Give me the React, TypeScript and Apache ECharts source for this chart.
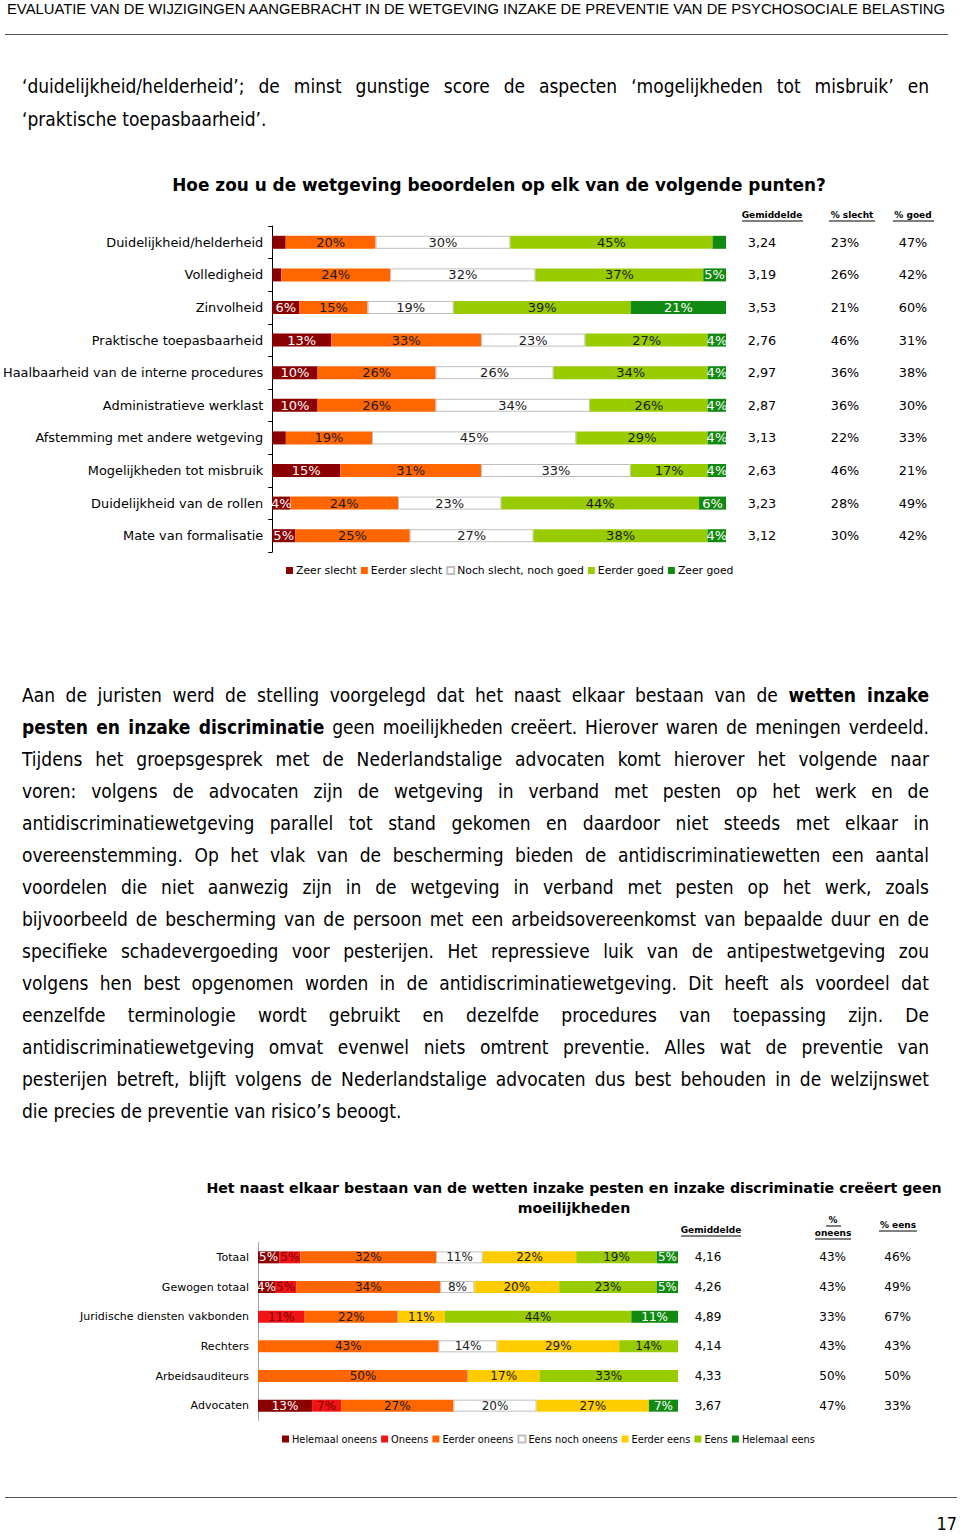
import React, { useEffect, useRef } from 'react';
import * as echarts from 'echarts';

// ---------- Chart 1 data ----------
const categories1 = [
  'Duidelijkheid/helderheid',
  'Volledigheid',
  'Zinvolheid',
  'Praktische toepasbaarheid',
  'Haalbaarheid van de interne procedures',
  'Administratieve werklast',
  'Afstemming met andere wetgeving',
  'Mogelijkheden tot misbruik',
  'Duidelijkheid van de rollen',
  'Mate van formalisatie',
];
const levels1 = ['Zeer slecht', 'Eerder slecht', 'Noch slecht, noch goed', 'Eerder goed', 'Zeer goed'];
const zeerSlecht = [3, 2, 6, 13, 10, 10, 3, 15, 4, 5];
const eerderSlecht = [20, 24, 15, 33, 26, 26, 19, 31, 24, 25];
const nochSlechtNochGoed = [30, 32, 19, 23, 26, 34, 45, 33, 23, 27];
const eerderGoed = [45, 37, 39, 27, 34, 26, 29, 17, 44, 38];
const zeerGoed = [3, 5, 21, 4, 4, 4, 4, 4, 6, 4];
const gemiddelde1 = [3.24, 3.19, 3.53, 2.76, 2.97, 2.87, 3.13, 2.63, 3.23, 3.12];
const pctSlecht = [23, 26, 21, 46, 36, 36, 22, 46, 28, 30];
const pctGoed = [47, 42, 60, 31, 38, 30, 33, 21, 49, 42];

// ---------- Chart 2 data ----------
const categories2 = ['Totaal', 'Gewogen totaal', 'Juridische diensten vakbonden', 'Rechters', 'Arbeidsauditeurs', 'Advocaten'];
const levels2 = ['Helemaal oneens', 'Oneens', 'Eerder oneens', 'Eens noch oneens', 'Eerder eens', 'Eens', 'Helemaal eens'];
const helemaalOneens = [5, 4, 0, 0, 0, 13];
const oneens = [5, 5, 11, 0, 0, 7];
const eerderOneens = [32, 34, 22, 43, 50, 27];
const eensNochOneens = [11, 8, 0, 14, 0, 20];
const eerderEens = [22, 20, 11, 29, 17, 27];
const eens = [19, 23, 44, 14, 33, 0];
const helemaalEens = [5, 5, 11, 0, 0, 7];
const gemiddelde2 = [4.16, 4.26, 4.89, 4.14, 4.33, 3.67];
const pctOneens = [43, 43, 33, 43, 50, 47];
const pctEens = [46, 49, 67, 43, 50, 33];

// ---------- Text ----------
const headerText = 'EVALUATIE VAN DE WIJZIGINGEN AANGEBRACHT IN DE WETGEVING INZAKE DE PREVENTIE VAN DE PSYCHOSOCIALE BELASTING';
type Seg = [string, boolean];
const proseLines: { segs: Seg[]; y: number; justify: boolean }[] = [
  { segs: [['‘duidelijkheid/helderheid’; de minst gunstige score de aspecten ‘mogelijkheden tot misbruik’ en', false]], y: 86, justify: true },
  { segs: [['‘praktische toepasbaarheid’.', false]], y: 119, justify: false },
  { segs: [['Aan de juristen werd de stelling voorgelegd dat het naast elkaar bestaan van de ', false], ['wetten inzake', true]], y: 695, justify: true },
  { segs: [['pesten en inzake discriminatie', true], [' geen moeilijkheden creëert. Hierover waren de meningen verdeeld.', false]], y: 727, justify: true },
  { segs: [['Tijdens het groepsgesprek met de Nederlandstalige advocaten komt hierover het volgende naar', false]], y: 759, justify: true },
  { segs: [['voren: volgens de advocaten zijn de wetgeving in verband met pesten op het werk en de', false]], y: 791, justify: true },
  { segs: [['antidiscriminatiewetgeving parallel tot stand gekomen en daardoor niet steeds met elkaar in', false]], y: 823, justify: true },
  { segs: [['overeenstemming. Op het vlak van de bescherming bieden de antidiscriminatiewetten een aantal', false]], y: 855, justify: true },
  { segs: [['voordelen die niet aanwezig zijn in de wetgeving in verband met pesten op het werk, zoals', false]], y: 887, justify: true },
  { segs: [['bijvoorbeeld de bescherming van de persoon met een arbeidsovereenkomst van bepaalde duur en de', false]], y: 919, justify: true },
  { segs: [['specifieke schadevergoeding voor pesterijen. Het repressieve luik van de antipestwetgeving zou', false]], y: 951, justify: true },
  { segs: [['volgens hen best opgenomen worden in de antidiscriminatiewetgeving. Dit heeft als voordeel dat', false]], y: 983, justify: true },
  { segs: [['eenzelfde terminologie wordt gebruikt en dezelfde procedures van toepassing zijn. De', false]], y: 1015, justify: true },
  { segs: [['antidiscriminatiewetgeving omvat evenwel niets omtrent preventie. Alles wat de preventie van', false]], y: 1047, justify: true },
  { segs: [['pesterijen betreft, blijft volgens de Nederlandstalige advocaten dus best behouden in de welzijnswet', false]], y: 1079, justify: true },
  { segs: [['die precies de preventie van risico’s beoogt.', false]], y: 1111, justify: false },
];

const CF = 'DejaVu Sans';
const PF = '"DejaVu Sans Condensed", "DejaVu Sans", sans-serif';

const fmtDec = (v: number) => v.toFixed(2).replace('.', ',');

function buildSeries(
  seriesVals: number[][],
  names: string[],
  colors: string[],
  labelColors: string[],
  axisIdx: number,
  stack: string,
  barWidth: number,
  minLabel: number,
  fontSize: number
) {
  const n = seriesVals[0].length;
  const sums = Array.from({ length: n }, (_, i) => seriesVals.reduce((s, arr) => s + arr[i], 0));
  return seriesVals.map((arr, j) => ({
    name: names[j],
    type: 'bar',
    stack,
    xAxisIndex: axisIdx,
    yAxisIndex: axisIdx * 2,
    barWidth,
    itemStyle: {
      color: colors[j],
      borderColor: colors[j] === '#FFFFFF' ? '#BFBFBF' : colors[j],
      borderWidth: colors[j] === '#FFFFFF' ? 1 : 0,
    },
    label: {
      show: true,
      position: 'inside',
      color: labelColors[j],
      fontSize,
      fontFamily: CF,
      formatter: (p: any) => (p.data.raw >= minLabel ? p.data.raw + '%' : ''),
    },
    emphasis: { disabled: true },
    data: arr.map((v, i) => ({ value: (v / sums[i]) * 100, raw: v })),
  }));
}

const colors1 = ['#8B0000', '#FF6600', '#FFFFFF', '#99CC00', '#118A11'];
const labelColors1 = ['#FFFFFF', '#1A1A1A', '#1A1A1A', '#1A1A1A', '#FFFFFF'];
const colors2 = ['#8B0000', '#F01414', '#FF6600', '#FFFFFF', '#FFCC00', '#99CC00', '#118A11'];
const labelColors2 = ['#FFFFFF', '#7A0000', '#1A1A1A', '#1A1A1A', '#1A1A1A', '#1A1A1A', '#FFFFFF'];

function hdr(text: string, x: number, y: number, size: number) {
  return {
    type: 'text',
    x,
    y,
    style: {
      text,
      fill: '#000',
      font: `bold ${size}px "${CF}"`,
      textAlign: 'center',
      textVerticalAlign: 'middle',
    },
  };
}
function uline(x1: number, x2: number, y: number) {
  return { type: 'line', shape: { x1, y1: y, x2, y2: y }, style: { stroke: '#000', lineWidth: 1 } };
}

function buildOption() {
  const s1 = buildSeries(
    [zeerSlecht, eerderSlecht, nochSlechtNochGoed, eerderGoed, zeerGoed],
    levels1, colors1, labelColors1, 0, 'top', 13, 4, 13
  );
  const s2 = buildSeries(
    [helemaalOneens, oneens, eerderOneens, eensNochOneens, eerderEens, eens, helemaalEens],
    levels2, colors2, labelColors2, 1, 'bottom', 12, 1, 12
  );
  return {
    animation: false,
    backgroundColor: 'transparent',
    grid: [
      { left: 271, top: 226, width: 455, height: 326 },
      { left: 258, top: 1242.5, width: 420, height: 178 },
    ],
    xAxis: [
      { type: 'value', gridIndex: 0, min: 0, max: 100, show: false },
      { type: 'value', gridIndex: 1, min: 0, max: 100, show: false },
    ],
    yAxis: [
      {
        type: 'category', gridIndex: 0, data: categories1, inverse: true,
        axisLine: { show: true, lineStyle: { color: '#000', width: 1 } },
        axisTick: { show: true, length: 4, lineStyle: { color: '#000' } },
        axisLabel: { color: '#000', fontSize: 12.9, fontFamily: CF, margin: 9 },
      },
      {
        type: 'category', gridIndex: 0, data: categories1, inverse: true, position: 'right',
        axisLine: { show: false }, axisTick: { show: false },
        axisLabel: {
          margin: 6,
          formatter: (_v: string, i: number) => `{a|${fmtDec(gemiddelde1[i])}}{b|${pctSlecht[i]}%}{c|${pctGoed[i]}%}`,
          rich: {
            a: { width: 60, align: 'center', fontSize: 12.8, fontFamily: CF, color: '#000' },
            b: { width: 106, align: 'center', fontSize: 12.8, fontFamily: CF, color: '#000' },
            c: { width: 30, align: 'center', fontSize: 12.8, fontFamily: CF, color: '#000' },
          },
        },
      },
      {
        type: 'category', gridIndex: 1, data: categories2, inverse: true,
        axisLine: { show: true, lineStyle: { color: '#A6A6A6', width: 1 } },
        axisTick: { show: false },
        axisLabel: { color: '#000', fontSize: 11, fontFamily: CF, margin: 9 },
      },
      {
        type: 'category', gridIndex: 1, data: categories2, inverse: true, position: 'right',
        axisLine: { show: false }, axisTick: { show: false },
        axisLabel: {
          margin: 6,
          formatter: (_v: string, i: number) => `{a|${fmtDec(gemiddelde2[i])}}{b|${pctOneens[i]}%}{c|${pctEens[i]}%}`,
          rich: {
            a: { width: 48, align: 'center', fontSize: 12, fontFamily: CF, color: '#000' },
            b: { width: 114, align: 'right', fontSize: 12, fontFamily: CF, color: '#000' },
            c: { width: 65, align: 'right', fontSize: 12, fontFamily: CF, color: '#000' },
          },
        },
      },
    ],
    legend: [
      {
        data: levels1, left: 286, top: 565, orient: 'horizontal',
        icon: 'rect', itemWidth: 7, itemHeight: 7, itemGap: 4, padding: 0,
        textStyle: { fontSize: 10.8, fontFamily: CF, color: '#000', padding: [0, 0, 0, -2] },
        selectedMode: false,
      },
      {
        data: levels2, left: 282, top: 1434, orient: 'horizontal',
        icon: 'rect', itemWidth: 7, itemHeight: 7, itemGap: 4, padding: 0,
        textStyle: { fontSize: 9.8, fontFamily: CF, color: '#000', padding: [0, 0, 0, -2] },
        selectedMode: false,
      },
    ],
    graphic: [
      {
        type: 'text', x: 499, y: 185,
        style: {
          text: 'Hoe zou u de wetgeving beoordelen op elk van de volgende punten?',
          fill: '#000', font: `bold 16.9px "${CF}"`, textAlign: 'center', textVerticalAlign: 'middle',
        },
      },
      hdr('Gemiddelde', 772, 215, 9),
      hdr('% slecht', 852, 215, 9),
      hdr('% goed', 913, 215, 9),
      uline(742, 803, 221),
      uline(829, 875, 221),
      uline(893, 934, 221),
      {
        type: 'text', x: 574, y: 1188,
        style: {
          text: 'Het naast elkaar bestaan van de wetten inzake pesten en inzake discriminatie creëert geen',
          fill: '#000', font: `bold 14.2px "${CF}"`, textAlign: 'center', textVerticalAlign: 'middle',
        },
      },
      {
        type: 'text', x: 574, y: 1208,
        style: {
          text: 'moeilijkheden',
          fill: '#000', font: `bold 14.2px "${CF}"`, textAlign: 'center', textVerticalAlign: 'middle',
        },
      },
      hdr('Gemiddelde', 711, 1230, 9),
      hdr('%', 833, 1220, 9),
      hdr('oneens', 833, 1233, 9),
      hdr('% eens', 898, 1225, 9),
      uline(681, 741, 1236),
      uline(826, 841, 1226),
      uline(815, 851, 1239),
      uline(879, 917, 1231),
    ],
    series: [...s1, ...s2],
  };
}

export default function App() {
  const chartRef = useRef<HTMLDivElement>(null);
  const headRef = useRef<HTMLSpanElement>(null);
  const lineRefs = useRef<(HTMLSpanElement | null)[]>([]);

  useEffect(() => {
    // fit header width
    if (headRef.current) {
      const w = headRef.current.getBoundingClientRect().width;
      if (w > 0) headRef.current.style.transform = `scaleX(${938 / w})`;
    }
    // justify prose lines
    const els = lineRefs.current;
    let maxW = 0;
    els.forEach((el) => {
      if (el) maxW = Math.max(maxW, el.getBoundingClientRect().width);
    });
    if (maxW > 900) {
      const fs = (19 * 900) / maxW;
      els.forEach((el) => {
        if (el) el.style.fontSize = fs + 'px';
      });
    }
    els.forEach((el, i) => {
      if (!el || !proseLines[i].justify) return;
      const w = el.getBoundingClientRect().width;
      const txt = proseLines[i].segs.map((s) => s[0]).join('');
      const spaces = (txt.match(/ /g) || []).length;
      if (spaces > 0) el.style.wordSpacing = (907 - w) / spaces + 'px';
    });

    const chart = echarts.init(chartRef.current!, null, { renderer: 'svg' });
    chart.setOption(buildOption() as any);
    return () => chart.dispose();
  }, []);

  return (
    <div style={{ position: 'absolute', left: 0, top: 0, width: 960, height: 1536, background: '#fff', overflow: 'hidden' }}>
      <div ref={chartRef} style={{ position: 'absolute', left: 0, top: 0, width: 960, height: 1536 }} />
      <div style={{ position: 'absolute', left: 7, top: 0, height: 18, lineHeight: '18px', whiteSpace: 'nowrap' }}>
        <span
          ref={headRef}
          style={{ display: 'inline-block', transformOrigin: 'left center', fontFamily: '"Liberation Sans Narrow", "Liberation Sans", sans-serif', fontSize: 15.5, color: '#000' }}
        >
          {headerText}
        </span>
      </div>
      <div style={{ position: 'absolute', left: 5, top: 34, width: 943, height: 1, background: '#555' }} />
      {proseLines.map((ln, i) => (
        <div key={i} style={{ position: 'absolute', left: 22, top: ln.y - 13, height: 26, lineHeight: '26px', whiteSpace: 'nowrap' }}>
          <span
            ref={(el) => { lineRefs.current[i] = el; }}
            style={{ display: 'inline-block', fontFamily: PF, fontSize: 19, color: '#000' }}
          >
            {ln.segs.map((s, k) => (
              <span key={k} style={{ fontWeight: s[1] ? 'bold' : 'normal' }}>{s[0]}</span>
            ))}
          </span>
        </div>
      ))}
      <div style={{ position: 'absolute', left: 5, top: 1497, width: 952, height: 1, background: '#555' }} />
      <div style={{ position: 'absolute', right: 3, top: 1514, height: 20, fontFamily: PF, fontSize: 18, lineHeight: '20px', color: '#000' }}>17</div>
    </div>
  );
}
